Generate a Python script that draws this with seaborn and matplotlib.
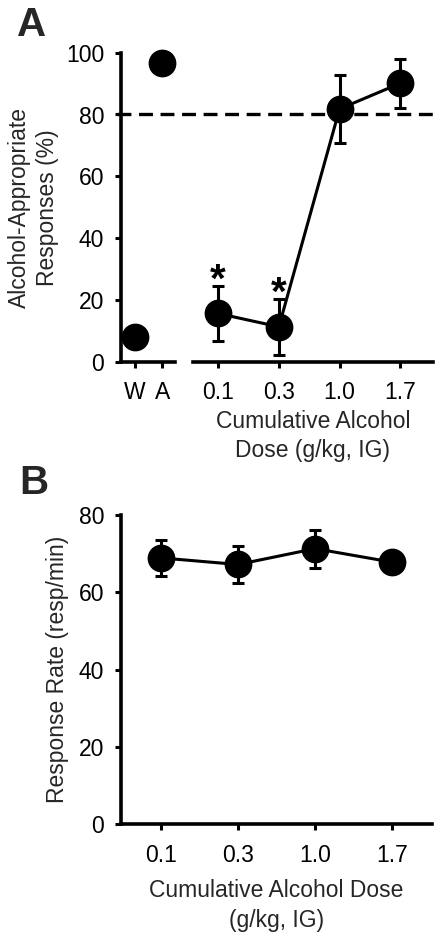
import numpy as np
import pandas as pd
import matplotlib
matplotlib.use("Agg")
import matplotlib.pyplot as plt
import matplotlib.transforms as mtransforms
import seaborn as sns

# ---------------- data ----------------
ctrl_labels = ["W", "A"]
ctrl_values = [8.0, 96.6]
dose_labels = ["0.1", "0.3", "1.0", "1.7"]
subst_mean = [15.6, 11.3, 81.8, 90.1]
subst_sem = [9.0, 9.0, 11.0, 8.0]
sig_labels = ["*", "*", "", ""]
rate_mean = [68.9, 67.2, 71.3, 67.8]
rate_sem = [4.7, 4.8, 4.9, 1.0]
criterion = 80
a_yticks = [0, 20, 40, 60, 80, 100]
b_yticks = [0, 20, 40, 60, 80]

# ---------------- style ----------------
sns.set_style("ticks")
plt.rcParams['font.family'] = ['Liberation Sans', 'DejaVu Sans']
plt.rcParams['lines.scale_dashes'] = False

FW, FH = 442, 939
fig = plt.figure(figsize=(FW / 100, FH / 100), dpi=100)


def rect(l, t, r, b):
    return [l / FW, 1 - b / FH, (r - l) / FW, (b - t) / FH]


axL = fig.add_axes(rect(120.7, 52.7, 175, 361.7))
axR = fig.add_axes(rect(192.7, 52.7, 433, 361.7))
axB = fig.add_axes(rect(120.7, 515, 432.3, 824.3))

SPINE_LW = 2.6
LINE_LW = 2.2
MS = 20
FS = 16.5


def style(ax, left=True):
    for s in ["top", "right"]:
        ax.spines[s].set_visible(False)
    ax.spines["left"].set_visible(left)
    for s in ["left", "bottom"]:
        ax.spines[s].set_linewidth(SPINE_LW)
        ax.spines[s].set_color("black")
    ax.tick_params(axis="both", direction="out", length=4, width=2.2,
                   colors="black", labelsize=FS)
    ax.tick_params(axis="y", pad=8)
    ax.tick_params(axis="x", pad=10)
    ax.set_facecolor("none")


# ---------------- panel A: controls ----------------
ctrl_df = pd.DataFrame({"x": np.arange(len(ctrl_labels)), "y": ctrl_values})
sns.scatterplot(data=ctrl_df, x="x", y="y", s=MS ** 2, color="black",
                edgecolor="black", linewidth=0, ax=axL, legend=False, zorder=5)
axL.set_xlim(-0.52, 1.46)
axL.set_ylim(0, 100)
axL.set_xticks(np.arange(len(ctrl_labels)))
axL.set_xticklabels(ctrl_labels)
axL.set_yticks(a_yticks)
axL.set_xlabel("")
axL.set_ylabel("Alcohol-Appropriate\nResponses (%)", fontsize=FS,
               linespacing=1.3)
axL.yaxis.set_label_coords(-1.13, 0.5)
style(axL)
for c in axL.collections:
    c.set_clip_on(False)

# ---------------- panel A: doses ----------------
subst_df = pd.DataFrame({"x": np.arange(len(dose_labels)), "y": subst_mean})
sns.lineplot(data=subst_df, x="x", y="y", color="black", lw=LINE_LW,
             marker="o", markersize=MS, markeredgewidth=0, ax=axR, zorder=5)
axR.errorbar(subst_df["x"], subst_df["y"], yerr=subst_sem, fmt="none",
             ecolor="black", elinewidth=LINE_LW, capsize=4, capthick=2.2,
             zorder=4)
for i, (lab, m, e) in enumerate(zip(sig_labels, subst_mean, subst_sem)):
    if lab:
        axR.text(i, m + e + 1.6, lab, ha="center", va="center",
                 fontsize=29, fontweight="bold", color="black")
axR.set_xlim(-0.42, 3.54)
axR.set_ylim(0, 100)
axR.set_xticks(np.arange(len(dose_labels)))
axR.set_xticklabels(dose_labels)
axR.set_yticks([])
axR.set_ylabel("")
axR.set_xlabel("Cumulative Alcohol\nDose (g/kg, IG)", fontsize=FS,
               linespacing=1.35)
axR.xaxis.set_label_coords(0.5, -0.155)
style(axR, left=False)
for ln in axR.lines:
    ln.set_clip_on(False)

# criterion dashed line spanning both segments
trans = mtransforms.blended_transform_factory(fig.transFigure, axL.transData)
axL.plot([116.7 / FW, 433 / FW], [criterion, criterion], transform=trans,
         color="black", lw=2.4, linestyle=(0, (10, 5.5)), clip_on=False,
         zorder=3)

# ---------------- panel B ----------------
rate_df = pd.DataFrame({"x": np.arange(len(dose_labels)), "y": rate_mean})
sns.lineplot(data=rate_df, x="x", y="y", color="black", lw=LINE_LW,
             marker="o", markersize=MS, markeredgewidth=0, ax=axB, zorder=5)
axB.errorbar(rate_df["x"], rate_df["y"], yerr=rate_sem, fmt="none",
             ecolor="black", elinewidth=LINE_LW, capsize=4, capthick=2.2,
             zorder=4)
axB.set_xlim(-0.52, 3.52)
axB.set_ylim(0, 80)
axB.set_xticks(np.arange(len(dose_labels)))
axB.set_xticklabels(dose_labels)
axB.set_yticks(b_yticks)
axB.set_ylabel("Response Rate (resp/min)", fontsize=FS)
axB.yaxis.set_label_coords(-0.165, 0.5)
axB.set_xlabel("Cumulative Alcohol Dose\n(g/kg, IG)", fontsize=FS,
               linespacing=1.35)
axB.xaxis.set_label_coords(0.5, -0.178)
style(axB)

# panel letters
fig.text(17 / FW, 1 - 6 / FH, "A", fontsize=29, fontweight="bold",
         ha="left", va="top")
fig.text(19 / FW, 1 - 464 / FH, "B", fontsize=29, fontweight="bold",
         ha="left", va="top")

fig.savefig("out.png", dpi=100, facecolor="white")
